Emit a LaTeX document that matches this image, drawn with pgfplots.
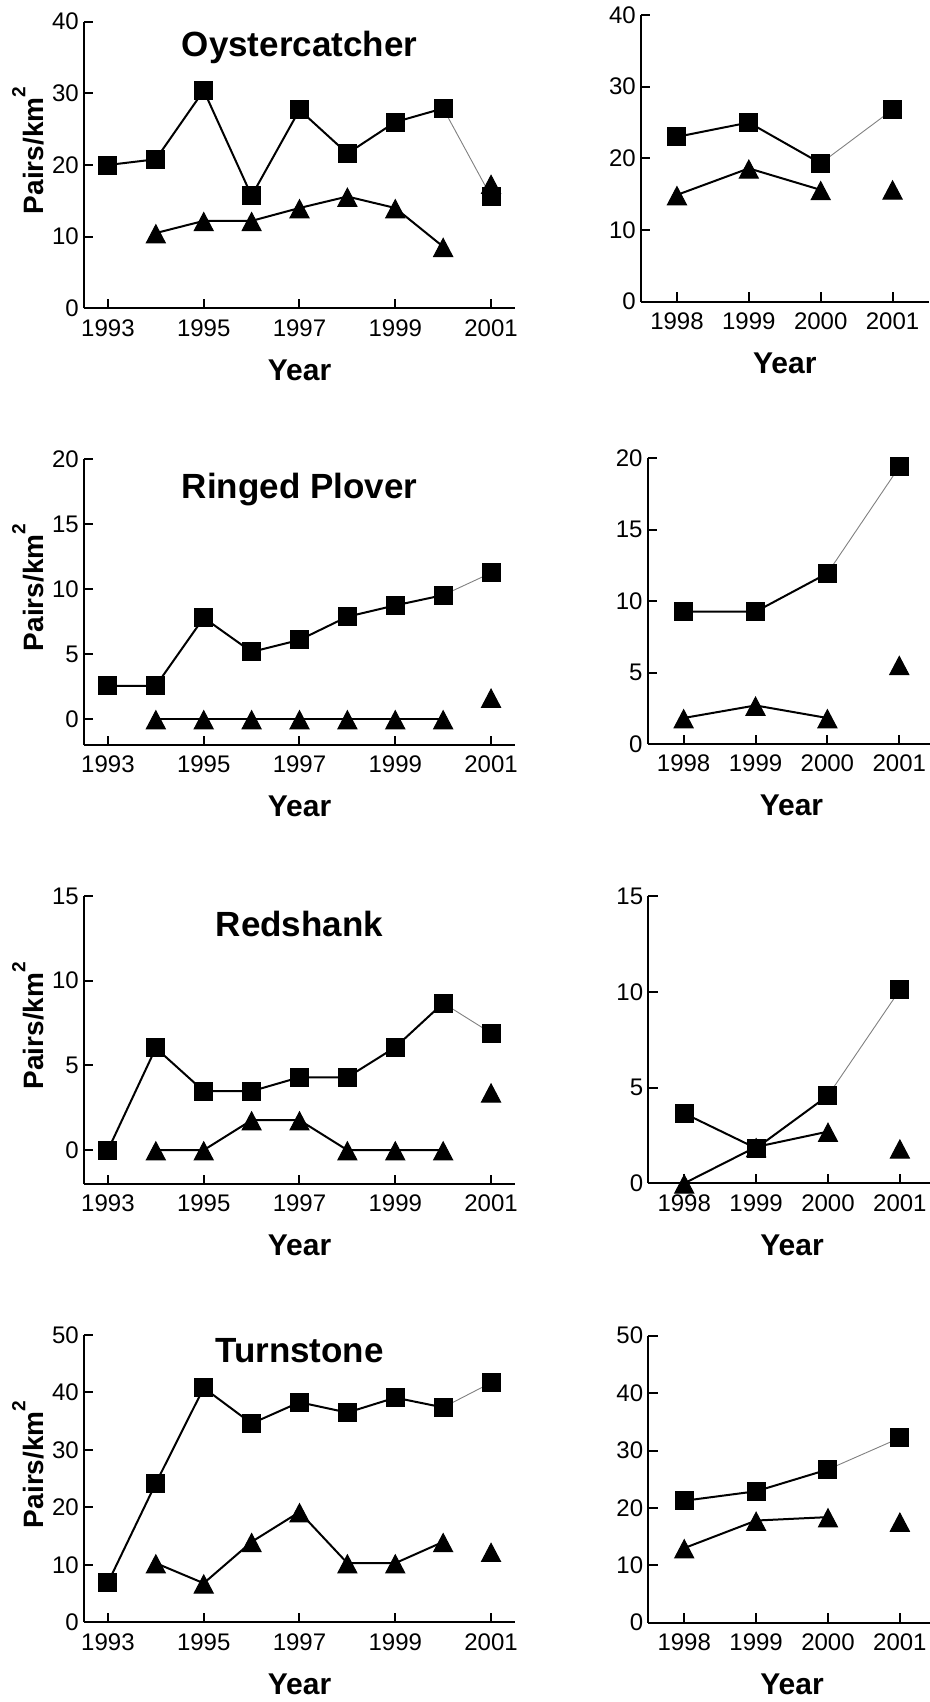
\documentclass[border=0pt]{standalone}
\usepackage{pgfplots}
\pgfplotsset{compat=1.18}
\usepackage{fontspec}
\setmainfont{Liberation Sans}

\pgfplotsset{
  panel/.style={
    scale only axis, clip=false,
    axis x line=bottom, axis y line=left,
    axis line style={line width=2pt,-},
    every tick/.style={black, line width=2pt},
    major tick length=9.5pt, tick align=inside,
    ticklabel style={font=\fontsize{24}{24}\selectfont},
    xticklabel style={inner sep=0pt, anchor=north, yshift=-11pt},
    yticklabel style={inner sep=0pt, anchor=east, xshift=-5pt},
    scaled ticks=false,
  },
  leftpanel/.style={panel, width=431pt, xmin=1992.5, xmax=2001.5,
    xtick={1993,1995,1997,1999,2001}, xticklabels={1993,1995,1997,1999,2001}},
  rightpanel/.style={panel, width=287.5pt, xmin=1997.5, xmax=2001.5,
    xtick={1998,1999,2000,2001}, xticklabels={1998,1999,2000,2001}},
  sqplot/.style={black, line width=2pt, mark=square*, mark size=9pt, mark options={line width=1pt, fill=black, draw=black}},
  triplot/.style={black, line width=2pt, mark=triangle*, mark size=11pt, mark options={line width=1pt, fill=black, draw=black, yshift=-3.8pt, yscale=1.1}},
  thinline/.style={gray, line width=0.9pt, mark=none},
}
\newcommand{\ylab}{\node[rotate=90, anchor=base west, font=\fontsize{28}{28}\selectfont\bfseries] at (axis description cs:-0.0944,0.316) {Pairs/km\raisebox{18pt}{\fontsize{19}{19}\selectfont\bfseries 2}};}
\newcommand{\xlab}{\node[anchor=base, font=\fontsize{30}{30}\selectfont\bfseries, yshift=-71.7pt] at (axis description cs:0.5,0) {Year};}

\begin{document}
\begin{tikzpicture}
\useasboundingbox (0pt,0pt) rectangle (929pt,-1702pt);

% Row 1 left: Oystercatcher
\begin{axis}[leftpanel, at={(84pt,-308.3pt)}, anchor=south west, height=286.6pt,
  ymin=0, ymax=40, ytick={0,10,20,30,40}, yticklabels={0,10,20,30,40}]
\addplot[thinline] coordinates {(2000,27.9) (2001,15.6)};
\addplot[sqplot] coordinates {(1993,20) (1994,20.8) (1995,30.4) (1996,15.7) (1997,27.7) (1998,21.6) (1999,26.0) (2000,27.9)};
\addplot[sqplot, only marks] coordinates {(2001,15.6)};
\addplot[triplot] coordinates {(1994,10.5) (1995,12.2) (1996,12.2) (1997,14.0) (1998,15.6) (1999,14.0) (2000,8.6)};
\addplot[triplot, only marks] coordinates {(2001,17.4)};
\node[anchor=base, font=\fontsize{35}{35}\selectfont\bfseries, yshift=-35pt] at (axis description cs:0.5,1) {Oystercatcher};
\ylab \xlab
\end{axis}

% Row 1 right
\begin{axis}[rightpanel, at={(641pt,-301.7pt)}, anchor=south west, height=286.7pt,
  ymin=0, ymax=40, ytick={0,10,20,30,40}, yticklabels={0,10,20,30,40}]
\addplot[thinline] coordinates {(2000,19.3) (2001,26.8)};
\addplot[sqplot] coordinates {(1998,23.0) (1999,25.0) (2000,19.3)};
\addplot[sqplot, only marks] coordinates {(2001,26.8)};
\addplot[triplot] coordinates {(1998,14.9) (1999,18.6) (2000,15.6)};
\addplot[triplot, only marks] coordinates {(2001,15.7)};
\xlab
\end{axis}

% Row 2 left: Ringed Plover
\begin{axis}[leftpanel, at={(84pt,-745pt)}, anchor=south west, height=285.7pt,
  ymin=-2, ymax=20, ytick={0,5,10,15,20}, yticklabels={0,5,10,15,20}]
\addplot[thinline] coordinates {(2000,9.54) (2001,11.25)};
\addplot[sqplot] coordinates {(1993,2.56) (1994,2.56) (1995,7.8) (1996,5.17) (1997,6.09) (1998,7.88) (1999,8.75) (2000,9.54)};
\addplot[sqplot, only marks] coordinates {(2001,11.25)};
\addplot[triplot] coordinates {(1994,0) (1995,0) (1996,0) (1997,0) (1998,0) (1999,0) (2000,0)};
\addplot[triplot, only marks] coordinates {(2001,1.66)};
\node[anchor=base, font=\fontsize{35}{35}\selectfont\bfseries, yshift=-39pt] at (axis description cs:0.5,1) {Ringed Plover};
\ylab \xlab
\end{axis}

% Row 2 right
\begin{axis}[rightpanel, at={(647.7pt,-744pt)}, anchor=south west, height=285.7pt,
  ymin=0, ymax=20, ytick={0,5,10,15,20}, yticklabels={0,5,10,15,20}]
\addplot[thinline] coordinates {(2000,11.95) (2001,19.4)};
\addplot[sqplot] coordinates {(1998,9.26) (1999,9.26) (2000,11.95)};
\addplot[sqplot, only marks] coordinates {(2001,19.4)};
\addplot[triplot] coordinates {(1998,1.82) (1999,2.7) (2000,1.82)};
\addplot[triplot, only marks] coordinates {(2001,5.55)};
\xlab
\end{axis}

% Row 3 left: Redshank
\begin{axis}[leftpanel, at={(84pt,-1184pt)}, anchor=south west, height=288pt,
  ymin=-2, ymax=15, ytick={0,5,10,15}, yticklabels={0,5,10,15}]
\addplot[thinline] coordinates {(2000,8.68) (2001,6.91)};
\addplot[sqplot] coordinates {(1993,0) (1994,6.03) (1995,3.48) (1996,3.48) (1997,4.3) (1998,4.3) (1999,6.07) (2000,8.68)};
\addplot[sqplot, only marks] coordinates {(2001,6.91)};
\addplot[triplot] coordinates {(1994,0) (1995,0) (1996,1.77) (1997,1.77) (1998,0) (1999,0) (2000,0)};
\addplot[triplot, only marks] coordinates {(2001,3.42)};
\node[anchor=base, font=\fontsize{35}{35}\selectfont\bfseries, yshift=-40.7pt] at (axis description cs:0.5,1) {Redshank};
\ylab \xlab
\end{axis}

% Row 3 right
\begin{axis}[rightpanel, at={(648.3pt,-1183.3pt)}, anchor=south west, height=287.3pt,
  ymin=0, ymax=15, ytick={0,5,10,15}, yticklabels={0,5,10,15}]
\addplot[thinline] coordinates {(2000,4.58) (2001,10.1)};
\addplot[sqplot] coordinates {(1998,3.65) (1999,1.83) (2000,4.58)};
\addplot[sqplot, only marks] coordinates {(2001,10.1)};
\addplot[triplot] coordinates {(1998,0) (1999,1.9) (2000,2.7)};
\addplot[triplot, only marks] coordinates {(2001,1.83)};
\xlab
\end{axis}

% Row 4 left: Turnstone
\begin{axis}[leftpanel, at={(84pt,-1622.3pt)}, anchor=south west, height=287.3pt,
  ymin=0, ymax=50, ytick={0,10,20,30,40,50}, yticklabels={0,10,20,30,40,50}]
\addplot[thinline] coordinates {(2000,37.4) (2001,41.7)};
\addplot[sqplot] coordinates {(1993,6.9) (1994,24.2) (1995,40.8) (1996,34.6) (1997,38.3) (1998,36.5) (1999,39.1) (2000,37.4)};
\addplot[sqplot, only marks] coordinates {(2001,41.7)};
\addplot[triplot] coordinates {(1994,10.3) (1995,6.8) (1996,14.0) (1997,19.2) (1998,10.3) (1999,10.3) (2000,14.0)};
\addplot[triplot, only marks] coordinates {(2001,12.3)};
\node[anchor=base, font=\fontsize{35}{35}\selectfont\bfseries, yshift=-27.7pt] at (axis description cs:0.5,1) {Turnstone};
\ylab \xlab
\end{axis}

% Row 4 right
\begin{axis}[rightpanel, at={(648.3pt,-1622.7pt)}, anchor=south west, height=287pt,
  ymin=0, ymax=50, ytick={0,10,20,30,40,50}, yticklabels={0,10,20,30,40,50}]
\addplot[thinline] coordinates {(2000,26.7) (2001,32.2)};
\addplot[sqplot] coordinates {(1998,21.25) (1999,22.9) (2000,26.7)};
\addplot[sqplot, only marks] coordinates {(2001,32.2)};
\addplot[triplot] coordinates {(1998,13.0) (1999,17.8) (2000,18.4)};
\addplot[triplot, only marks] coordinates {(2001,17.65)};
\xlab
\end{axis}
\end{tikzpicture}
\end{document}
